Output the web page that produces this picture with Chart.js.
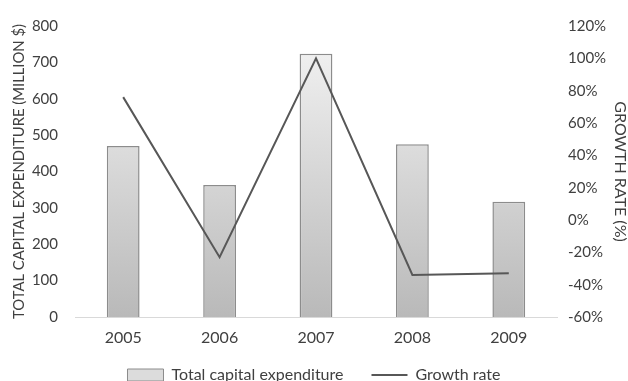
<!DOCTYPE html>
<html lang="en">
  <head>
    <meta charset="UTF-8" />
    <title>Capital expenditure and growth rate</title>
    <style>
      html, body {
        margin: 0;
        padding: 0;
        background: #fff;
        overflow: hidden;
      }
      #chart {
        display: block;
      }
    </style>
    <script src="https://cdn.jsdelivr.net/npm/chart.js@4"></script>
  </head>
  <body>
    <!-- canvas is taller than the window: the legend sits right on the bottom edge in the original -->
    <canvas id="chart" width="628" height="413"></canvas>

    <script>
      const years = ["2005", "2006", "2007", "2008", "2009"];
      const capex = [470, 363, 724, 475, 317]; // million $
      const growth = [76, -23, 100, -34, -33]; // percent

      const textColor = "#404040";
      const fontFamily = "Lato, 'Open Sans', sans-serif";

      // vertical grey gradient for the bars
      function barFill(context) {
        const chart = context.chart;
        const area = chart.chartArea;
        if (!area) return "#dcdcdc";
        const g = chart.ctx.createLinearGradient(0, area.top, 0, area.bottom);
        g.addColorStop(0, "#f5f5f5");
        g.addColorStop(1, "#b9b9b9");
        return g;
      }

      // legend padding also sets the gap between items, so pull the legend
      // up a little after layout instead of shrinking that gap
      const legendNudge = {
        id: "legendNudge",
        afterLayout(chart) {
          const lg = chart.legend;
          lg.top -= 20;
          lg.bottom -= 20;
        },
      };

      const ctx = document.getElementById("chart").getContext("2d");
      new Chart(ctx, {
        data: {
          labels: years,
          datasets: [
            {
              type: "line",
              label: "Growth rate",
              data: growth,
              yAxisID: "yRight",
              borderColor: "#575757",
              backgroundColor: "#575757",
              borderWidth: 2,
              pointRadius: 0,
              tension: 0,
              order: 0,
            },
            {
              type: "bar",
              label: "Total capital expenditure",
              data: capex,
              yAxisID: "yLeft",
              backgroundColor: barFill,
              borderColor: "#8c8c8c",
              borderWidth: 1.5,
              barPercentage: 0.34,
              categoryPercentage: 1,
              order: 1,
            },
          ],
        },
        plugins: [legendNudge],
        options: {
          responsive: false,
          animation: false,
          layout: { padding: { top: 24, left: 0, right: 0, bottom: 0 } },
          plugins: {
            tooltip: { enabled: false },
            legend: {
              position: "bottom",
              reverse: true,
              labels: {
                color: textColor,
                font: { family: fontFamily, size: 16 },
                usePointStyle: true,
                pointStyleWidth: 36,
                boxHeight: 12,
                padding: 28,
                generateLabels(chart) {
                  const items = Chart.defaults.plugins.legend.labels.generateLabels(chart);
                  items.forEach((it) => {
                    const ds = chart.data.datasets[it.datasetIndex];
                    if (ds.type === "bar") {
                      it.pointStyle = "rect";
                      it.fillStyle = "#dcdcdc";
                      it.strokeStyle = "#8c8c8c";
                      it.lineWidth = 1;
                    } else {
                      it.pointStyle = "line";
                      it.strokeStyle = "#575757";
                      it.lineWidth = 2;
                    }
                  });
                  return items;
                },
              },
            },
          },
          scales: {
            x: {
              grid: { display: false, drawTicks: false },
              border: { color: "#d9d9d9", width: 1 },
              ticks: {
                color: textColor,
                font: { family: fontFamily, size: 16 },
                padding: 11,
              },
              afterFit(scale) {
                scale.height = 42;
              },
            },
            yLeft: {
              position: "left",
              min: 0,
              max: 800,
              grid: { display: false, drawTicks: false },
              border: { display: false },
              ticks: {
                stepSize: 100,
                color: textColor,
                font: { family: fontFamily, size: 15 },
                padding: 17,
              },
              title: {
                display: true,
                text: "TOTAL CAPITAL EXPENDITURE (MILLION $)",
                color: textColor,
                font: { family: fontFamily, size: 14.8, lineHeight: 1 },
                padding: 12,
              },
              afterFit(scale) {
                scale.width = 75;
              },
            },
            yRight: {
              position: "right",
              min: -60,
              max: 120,
              grid: { display: false, drawTicks: false },
              border: { display: false },
              ticks: {
                stepSize: 20,
                color: textColor,
                font: { family: fontFamily, size: 15 },
                padding: 11,
                callback: (v) => v + "%",
              },
              title: {
                display: true,
                text: "GROWTH RATE (%)",
                color: textColor,
                font: { family: fontFamily, size: 16, lineHeight: 1 },
                padding: 0,
              },
              afterFit(scale) {
                scale.width = 71;
              },
            },
          },
        },
      });
    </script>
  </body>
</html>
